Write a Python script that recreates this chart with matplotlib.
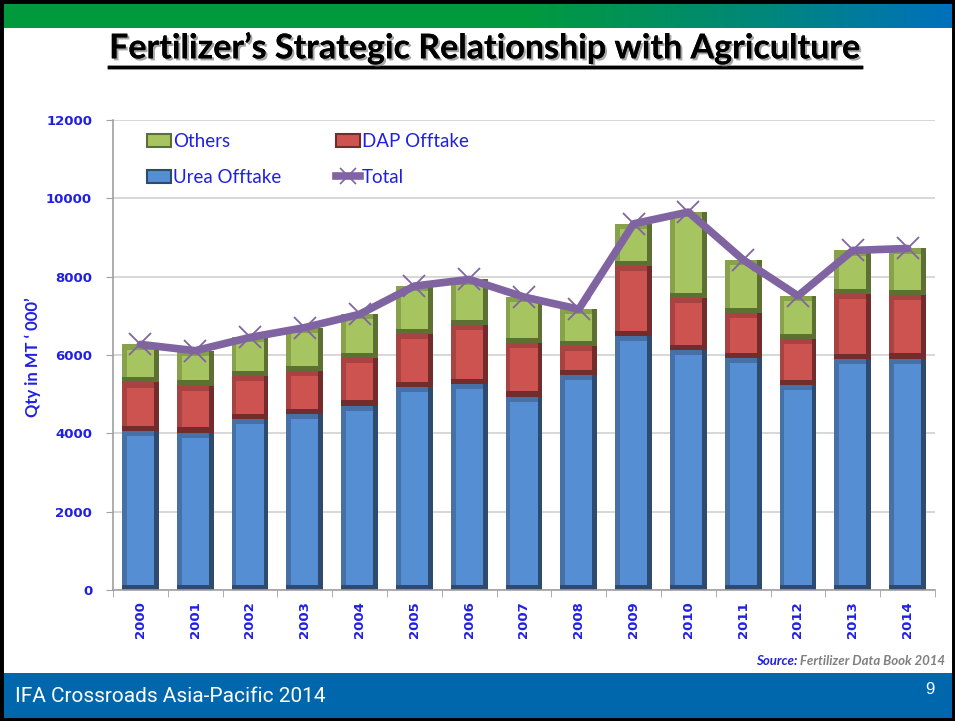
import numpy as np
import matplotlib
matplotlib.use("Agg")
import matplotlib.pyplot as plt
import matplotlib.patheffects as pe
from matplotlib.patches import Patch, Rectangle
from matplotlib.lines import Line2D
from matplotlib.colors import LinearSegmentedColormap

# data ('000 MT)
years = ['2000', '2001', '2002', '2003', '2004', '2005', '2006', '2007',
         '2008', '2009', '2010', '2011', '2012', '2013', '2014']
urea = [4070, 4020, 4360, 4490, 4710, 5190, 5250, 4940,
        5490, 6490, 6130, 5930, 5240, 5890, 5910]
dap = [1230, 1200, 1105, 1100, 1210, 1350, 1510, 1375,
       750, 1785, 1320, 1135, 1170, 1670, 1630]
others = [970, 890, 985, 1110, 1120, 1220, 1170, 1165,
          930, 1075, 2200, 1365, 1100, 1110, 1180]

BLUE_TXT = '#1F1FE6'
PURPLE = '#8064A2'
# face / side / dark shades for the bevelled bars
SHADES = {
    'urea': ('#568ED3', '#4670A6', '#2E4A6E'),
    'dap': ('#CD5350', '#A84341', '#722C2B'),
    'others': ('#A6C460', '#87A24B', '#5D7034'),
}

fig = plt.figure(figsize=(9.55, 7.21), dpi=100)
W, H = 955, 721

# top gradient band
band = fig.add_axes([0, 1 - 28 / H, 1, 28 / H])
cmap = LinearSegmentedColormap.from_list(
    'band', [(0, '#009A3D'), (0.55, '#009A3D'), (0.8, '#00877A'), (1, '#0070BE')])
band.imshow(np.linspace(0, 1, 256)[None, :], aspect='auto', cmap=cmap)
band.axis('off')

# footer band
foot = fig.add_axes([0, 3 / H, 1, 45 / H])
foot.set_facecolor('#0067AC')
foot.set_xticks([])
foot.set_yticks([])
for s in foot.spines.values():
    s.set_visible(False)

# black slide frame
fig.add_artist(Rectangle((0, 0), 1, 1, transform=fig.transFigure,
                         fill=False, edgecolor='black', lw=5, zorder=10))

# title
shadow = [pe.withSimplePatchShadow(offset=(1.5, -1.5), shadow_rgbFace='gray',
                                   alpha=0.7), pe.Normal()]
title = fig.text(0.508, 1 - 48 / H,
                 "Fertilizer\u2019s Strategic Relationship with Agriculture",
                 ha='center', va='center', fontsize=24.5, fontweight='bold',
                 family=['Lato', 'DejaVu Sans'], color='black',
                 path_effects=shadow)
fig.canvas.draw()
bb = title.get_window_extent()
uy = 1 - 67 / H
fig.add_artist(Line2D([bb.x0 / W, bb.x1 / W], [uy, uy], color='black', lw=2.5,
                      transform=fig.transFigure, path_effects=shadow))

# chart
ax = fig.add_axes([113 / W, 1 - 590 / H, 822 / W, 470 / H])
x = np.arange(len(years))
bw = 0.675
bev_w = 0.09
bev_h = 130


def bevel_bar(vals, bottom, shades):
    face, side, dark = shades
    vals = np.asarray(vals, float)
    bottom = np.asarray(bottom, float)
    ax.bar(x, vals, bw, bottom=bottom, color=dark, zorder=2)
    ax.bar(x - bev_w / 2, vals - bev_h, bw - bev_w, bottom=bottom + bev_h,
           color=side, zorder=2)
    ax.bar(x, vals - 2 * bev_h, bw - 2 * bev_w, bottom=bottom + bev_h,
           color=face, zorder=2)


urea_a = np.array(urea)
dap_a = np.array(dap)
oth_a = np.array(others)
total = urea_a + dap_a + oth_a

bevel_bar(urea_a, np.zeros(len(x)), SHADES['urea'])
bevel_bar(dap_a, urea_a, SHADES['dap'])
bevel_bar(oth_a, urea_a + dap_a, SHADES['others'])

ax.plot(x, total, color=PURPLE, lw=5.5, solid_joinstyle='round',
        solid_capstyle='round', zorder=4)
ax.plot(x, total, ls='none', marker='x', ms=16, mew=1.3, color=PURPLE, zorder=5)

ax.set_xlim(-0.5, len(x) - 0.5)
ax.set_ylim(0, 12000)
ax.set_yticks(np.arange(0, 12001, 2000))
ax.yaxis.grid(True, color='#D4D4D4', lw=1.3, zorder=0)
ax.set_axisbelow(True)
ax.set_xticks(x)
ax.set_xticklabels(years, rotation=90)
ax.set_xticks(np.arange(-0.5, len(x), 1), minor=True)
ax.tick_params(axis='x', which='major', length=0, pad=8)
ax.tick_params(axis='x', which='minor', length=5, color='#A0A0A0')
ax.tick_params(axis='y', length=5, color='#A0A0A0', pad=10)
for lab in ax.get_xticklabels() + ax.get_yticklabels():
    lab.set_color(BLUE_TXT)
    lab.set_fontweight('bold')
    lab.set_fontsize(9.5)
for side in ['top', 'right']:
    ax.spines[side].set_visible(False)
for side in ['left', 'bottom']:
    ax.spines[side].set_color('#A0A0A0')
    ax.spines[side].set_linewidth(1.2)

fig.text(33 / W, 1 - 357 / H, "Qty in MT \u2018 000\u2019", rotation=90,
         ha='center', va='center', fontsize=12, fontweight='bold',
         family=['Lato', 'DejaVu Sans'], color=BLUE_TXT)

handles = [
    Patch(facecolor=SHADES['others'][0], edgecolor=SHADES['others'][2], lw=1.5),
    Patch(facecolor=SHADES['urea'][0], edgecolor=SHADES['urea'][2], lw=1.5),
    Patch(facecolor=SHADES['dap'][0], edgecolor=SHADES['dap'][2], lw=1.5),
    Line2D([], [], color=PURPLE, lw=5.5, marker='x', ms=12, mew=1.2),
]
leg = ax.legend(handles, ['Others', 'Urea Offtake', 'DAP Offtake', 'Total'],
                ncol=2, loc='upper left', bbox_to_anchor=(0.025, 1.0),
                frameon=False, prop={'family': 'Lato', 'size': 13.5},
                handlelength=1.3, handleheight=0.65, handletextpad=0.1,
                labelspacing=1.0, columnspacing=2.9, borderaxespad=0.3)
for t in leg.get_texts():
    t.set_color(BLUE_TXT)

# source + footer
src_kw = dict(va='center', fontsize=9.5, fontweight='bold', style='italic',
              family=['Lato', 'DejaVu Sans'])
src = fig.text(945 / W, 1 - 661 / H, " Fertilizer Data Book 2014", ha='right',
               color='#808080', **src_kw)
fig.canvas.draw()
sb = src.get_window_extent()
fig.text(sb.x0 / W, 1 - 661 / H, "Source:", ha='right', color=BLUE_TXT, **src_kw)

fig.text(15 / W, 1 - 697 / H, "IFA Crossroads Asia-Pacific 2014", ha='left',
         va='center', fontsize=15, color='white',
         family=['Liberation Sans Narrow', 'Roboto', 'DejaVu Sans'])
fig.text(930 / W, 1 - 690 / H, "9", ha='center', va='center', fontsize=12,
         color='white', family=['Liberation Sans', 'DejaVu Sans'])

fig.savefig('out.png', dpi=100)
